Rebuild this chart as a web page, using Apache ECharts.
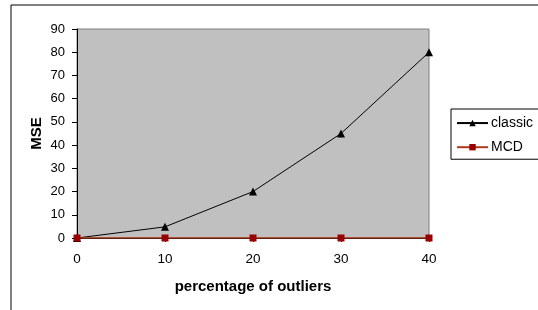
<!DOCTYPE html>
<title>mse</title>
<style>
body {
    margin: 0;
    background: #fff;
}
#echart {
    height: 310px;
    width: 538px;
}
</style>
<div id='echart'></div>
<script src='https://cdn.jsdelivr.net/npm/echarts@6/dist/echarts.min.js'></script>
<script>
let percentages = [0, 10, 20, 30, 40]
let classic = [0, 4.8, 20, 45, 80]
let mcd = [0, 0, 0, 0, 0]
let font = 'Liberation Sans, Arial, sans-serif'
let echart = echarts.init(document.querySelector('#echart'))
let pairs = values => percentages.map((p, i) => [p, values[i]])
let option = {
    animation: false,
    backgroundColor: '#fff',
    textStyle: {fontFamily: font},
    graphic: [
        {type: 'rect', shape: {x: 11, y: 5, width: 560, height: 340}, style: {fill: 'none', stroke: '#000', lineWidth: 1}, silent: true},
    ],
    grid: {left: 77, right: 109, top: 29, bottom: 72, show: true, backgroundColor: '#c0c0c0', borderColor: '#808080', borderWidth: 1},
    xAxis: {
        type: 'value', min: 0, max: 40, interval: 10,
        name: 'percentage of outliers', nameLocation: 'middle', nameGap: 36, nameMoveOverlap: false,
        nameTextStyle: {fontWeight: 'bold', fontSize: 15, color: '#000'},
        axisLine: {lineStyle: {color: '#000'}},
        axisTick: {show: true, inside: false, length: 4, lineStyle: {color: '#000'}},
        axisLabel: {fontSize: 13.5, lineHeight: 14, color: '#000', margin: 14},
        splitLine: {show: false},
    },
    yAxis: {
        type: 'value', min: 0, max: 90, interval: 10,
        name: 'MSE', nameLocation: 'middle', nameGap: 33, nameRotate: 90, nameMoveOverlap: false,
        nameTextStyle: {fontWeight: 'bold', fontSize: 15, lineHeight: 15, color: '#000'},
        axisLine: {show: true, lineStyle: {color: '#000'}},
        axisTick: {show: true, length: 5, lineStyle: {color: '#000'}},
        axisLabel: {fontSize: 13, lineHeight: 13, color: '#000', margin: 12},
        splitLine: {show: false},
    },
    legend: {
        orient: 'vertical', left: 451, top: 109,
        padding: [2, 10, 0, 5], itemGap: 0, itemWidth: 31, itemHeight: 8,
        borderColor: '#000', borderWidth: 1, backgroundColor: '#fff',
        textStyle: {fontSize: 14, color: '#000', fontFamily: font, padding: [0, 0, 0, -2]},
        data: ['classic', 'MCD'],
    },
    series: [
        {
            name: 'classic', type: 'line', data: pairs(classic),
            symbol: 'triangle', symbolSize: 8, showAllSymbol: true,
            lineStyle: {color: '#000', width: 1}, itemStyle: {color: '#000'},
            z: 3,
        },
        {
            name: 'MCD', type: 'line', data: pairs(mcd),
            symbol: 'rect', symbolSize: 7, showAllSymbol: true,
            lineStyle: {color: '#b03a1a', width: 1.5}, itemStyle: {color: '#990000'},
            z: 4,
        },
    ],
}
echart.setOption(option)
</script>
